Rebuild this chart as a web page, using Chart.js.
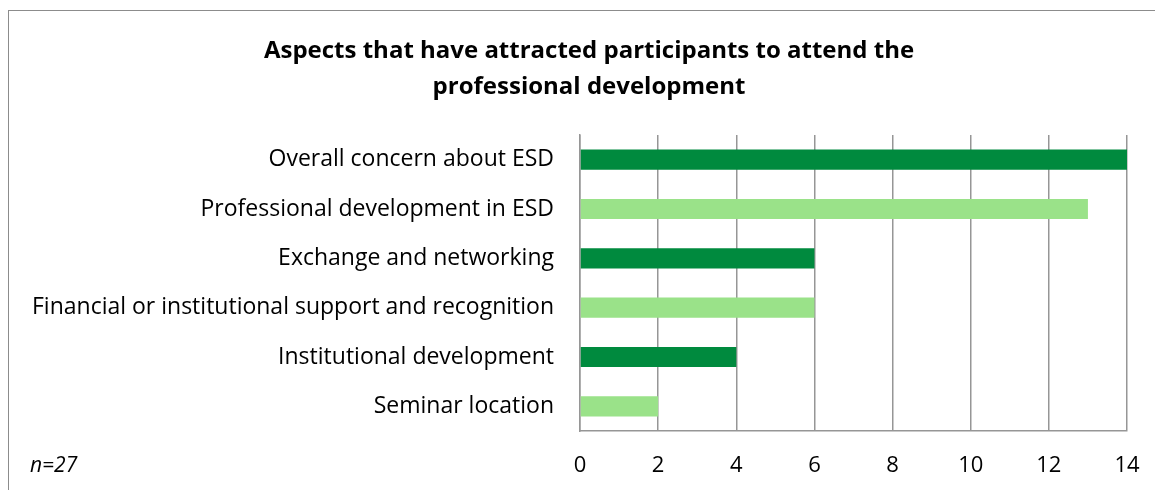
<!DOCTYPE html>
<html>
<head>
<meta charset="utf-8">
<script src="https://cdn.jsdelivr.net/npm/chart.js@4.4.1/dist/chart.umd.min.js"></script>
<style>
    body { margin: 0; background: #fff; }
    #wrap { position: relative; width: 1155px; height: 490px; overflow: hidden; }
    #frame { position: absolute; left: 8px; top: 10px; width: 1200px; height: 520px; border: 1px solid #8c8c8c; }
    #nota { position: absolute; left: 30px; top: 450px; font: italic 21px "Open Sans", sans-serif; color: #000; }
    canvas { position: absolute; left: 0; top: 0; }
</style>
</head>
<body>
<div id="wrap">
    <div id="frame"></div>
    <canvas id="grafico" width="1155" height="490"></canvas>
    <div id="nota">n=27</div>
</div>
<script>
// Dados do gráfico
const categorias = [
    'Overall concern about ESD',
    'Professional development in ESD',
    'Exchange and networking',
    'Financial or institutional support and recognition',
    'Institutional development',
    'Seminar location'
];
const valores = [14, 13, 6, 6, 4, 2];
const titulo = ['Aspects that have attracted participants to attend the', 'professional development'];
const ticksX = [0, 2, 4, 6, 8, 10, 12, 14];

const VERDE_ESCURO = '#008a3e';
const VERDE_CLARO = '#9ae289';
const cores = valores.map((v, i) => i % 2 === 0 ? VERDE_ESCURO : VERDE_CLARO);

const fonte = '"Open Sans", sans-serif';

// Título desenhado à mão: no original ele não fica centrado no canvas
const pluginTitulo = {
    id: 'tituloDeslocado',
    afterDraw: (chart) => {
        const c = chart.ctx;
        c.save();
        c.font = `bold 24px ${fonte}`;
        c.fillStyle = '#000';
        c.textAlign = 'center';
        c.textBaseline = 'middle';
        titulo.forEach((linha, i) => c.fillText(linha, 589, 51 + i * 36));
        c.restore();
    }
};

new Chart(document.getElementById('grafico'), {
    type: 'bar',
    data: {
        labels: categorias,
        datasets: [{
            data: valores,
            backgroundColor: cores,
            borderWidth: 0,
            barPercentage: 0.41,
            categoryPercentage: 1.0
        }]
    },
    plugins: [pluginTitulo],
    options: {
        indexAxis: 'y',
        responsive: false,
        animation: false,
        layout: { padding: { left: 10, right: 28, top: 135, bottom: 11 } },
        plugins: {
            legend: { display: false },
            tooltip: { enabled: false },
            title: { display: false }
        },
        scales: {
            x: {
                min: 0,
                max: 14,
                afterBuildTicks: (eixo) => { eixo.ticks = ticksX.map(v => ({ value: v })); },
                afterFit: (eixo) => {
                    eixo.height = 48;
                    eixo.paddingLeft = 0;
                    eixo.paddingRight = 0;
                },
                grid: { color: '#969696', lineWidth: 1.5, drawTicks: false },
                border: { color: '#969696', width: 1.5 },
                ticks: { color: '#000', padding: 22, font: { family: fonte, size: 22 } }
            },
            y: {
                afterFit: (eixo) => {
                    eixo.width = 570;
                    eixo.paddingTop = 0;
                    eixo.paddingBottom = 0;
                },
                grid: { display: false, drawTicks: false },
                border: { color: '#969696', width: 1.5 },
                ticks: { color: '#000', padding: 26, font: { family: fonte, size: 23 } }
            }
        }
    }
});
</script>
</body>
</html>
